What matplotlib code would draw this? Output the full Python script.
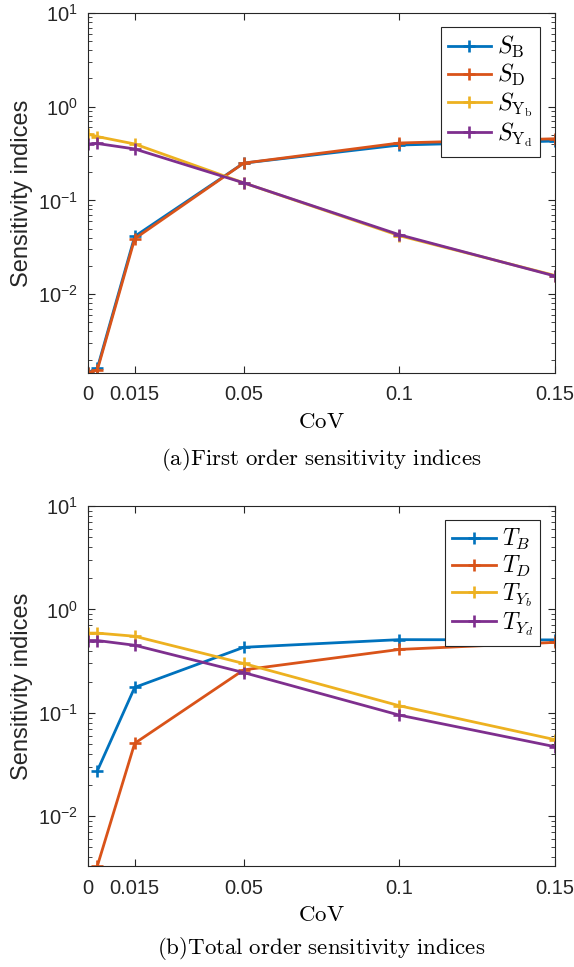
import math
import matplotlib
matplotlib.use("Agg")
import matplotlib.pyplot as plt
from matplotlib.ticker import FixedLocator, FuncFormatter, LogLocator, NullFormatter
from matplotlib.font_manager import FontProperties

plt.rcParams["font.family"] = ["Liberation Sans", "DejaVu Sans"]
plt.rcParams["mathtext.fontset"] = "custom"
plt.rcParams["mathtext.rm"] = "Liberation Sans"
plt.rcParams["mathtext.it"] = "Liberation Sans:italic"

# Coefficient of variation of the inputs
cov = [0.0, 0.003, 0.015, 0.05, 0.1, 0.15]

# First order indices
first_B = [1.45e-3, 1.62e-3, 0.0413, 0.25, 0.39, 0.43]
first_D = [1.45e-3, 1.55e-3, 0.039, 0.25, 0.41, 0.455]
first_Yb = [0.51, 0.48, 0.40, 0.154, 0.042, 0.0158]
first_Yd = [0.40, 0.405, 0.354, 0.154, 0.043, 0.0156]

# Total order indices
total_B = [None, 0.0275, 0.176, 0.43, 0.51, 0.507]
total_D = [None, 3.3e-3, 0.0507, 0.26, 0.41, 0.48]
total_Yb = [0.59, 0.59, 0.55, 0.30, 0.117, 0.055]
total_Yd = [0.50, 0.50, 0.45, 0.245, 0.095, 0.047]

xticks = [0, 0.015, 0.05, 0.1, 0.15]
xticklabels = ["0", "0.015", "0.05", "0.1", "0.15"]

colors = ["#0072BD", "#D95319", "#EDB120", "#7E2F8E"]
first_labels = [r"$S_{\mathrm{B}}$", r"$S_{\mathrm{D}}$",
                r"$S_{\mathrm{Y}_\mathrm{b}}$", r"$S_{\mathrm{Y}_\mathrm{d}}$"]
total_labels = [r"$T_B$", r"$T_D$", r"$T_{Y_b}$", r"$T_{Y_d}$"]

W, H = 574, 967
fig = plt.figure(figsize=(W / 100, H / 100), dpi=100)

axc = "#262626"
AX_LEFT, AX_RIGHT = 88, 555


def px_axes(left, top, right, bottom):
    return fig.add_axes([left / W, 1 - bottom / H, (right - left) / W, (bottom - top) / H])


def draw_panel(ax, series, labels, ylow, caption, cap_y):
    for vals, lab, c in zip(series, labels, colors):
        pts = [(x, y) for x, y in zip(cov, vals) if y is not None]
        xs = [p[0] for p in pts]
        ys = [p[1] for p in pts]
        ax.plot(xs, ys, color=c, lw=2.0, marker="+", ms=8.5, mew=1.9,
                label=lab, clip_on=True)
    ax.set_yscale("log")
    ax.set_xlim(0, 0.15)
    ax.set_ylim(ylow, 10)
    ax.xaxis.set_major_locator(FixedLocator(xticks))
    ax.set_xticklabels(xticklabels)
    ax.yaxis.set_major_locator(FixedLocator([1e-2, 1e-1, 1e0, 1e1]))
    ax.yaxis.set_major_formatter(FuncFormatter(
        lambda v, p: r"$10^{%d}$" % round(math.log10(v))))
    ax.yaxis.set_minor_locator(LogLocator(base=10, subs=range(2, 10), numticks=20))
    ax.yaxis.set_minor_formatter(NullFormatter())
    ax.tick_params(axis="both", which="major", direction="in", length=5,
                   width=0.8, color=axc, labelsize=14.5, labelcolor="#262626",
                   top=True, right=True)
    ax.tick_params(axis="x", which="major", pad=9)
    ax.tick_params(axis="y", which="major", pad=7)
    ax.tick_params(axis="y", which="minor", direction="in", length=3,
                   width=0.6, color=axc, right=True)
    ax.tick_params(axis="x", which="minor", bottom=False, top=False)
    for s in ax.spines.values():
        s.set_color(axc)
        s.set_linewidth(0.8)
    ax.set_ylabel("Sensitivity indices", fontsize=17, color="#262626", labelpad=4)
    ax.set_xlabel(r"$\mathrm{CoV}$", fontsize=16.5, labelpad=4,
                  math_fontfamily="cm")
    leg = ax.legend(loc="upper right", bbox_to_anchor=(0.968, 0.961),
                    borderaxespad=0, fancybox=False, framealpha=1,
                    edgecolor=axc, handlelength=1.85, handletextpad=0.25,
                    labelspacing=0.08, borderpad=0.3,
                    prop=FontProperties(size=17, math_fontfamily="cm"))
    leg.get_frame().set_linewidth(0.8)
    fig.text(0.5 * (AX_LEFT + AX_RIGHT) / W, 1 - cap_y / H, caption, ha="center",
             va="center", fontsize=16.5, math_fontfamily="cm")


ax1 = px_axes(AX_LEFT, 13, AX_RIGHT, 372.7)
draw_panel(ax1, [first_B, first_D, first_Yb, first_Yd], first_labels, 1.45e-3,
           r"$\mathrm{(a)First\ order\ sensitivity\ indices}$", 460)

ax2 = px_axes(AX_LEFT, 506, AX_RIGHT, 866)
draw_panel(ax2, [total_B, total_D, total_Yb, total_Yd], total_labels, 3.3e-3,
           r"$\mathrm{(b)Total\ order\ sensitivity\ indices}$", 948)

fig.savefig("out.png", dpi=100)
